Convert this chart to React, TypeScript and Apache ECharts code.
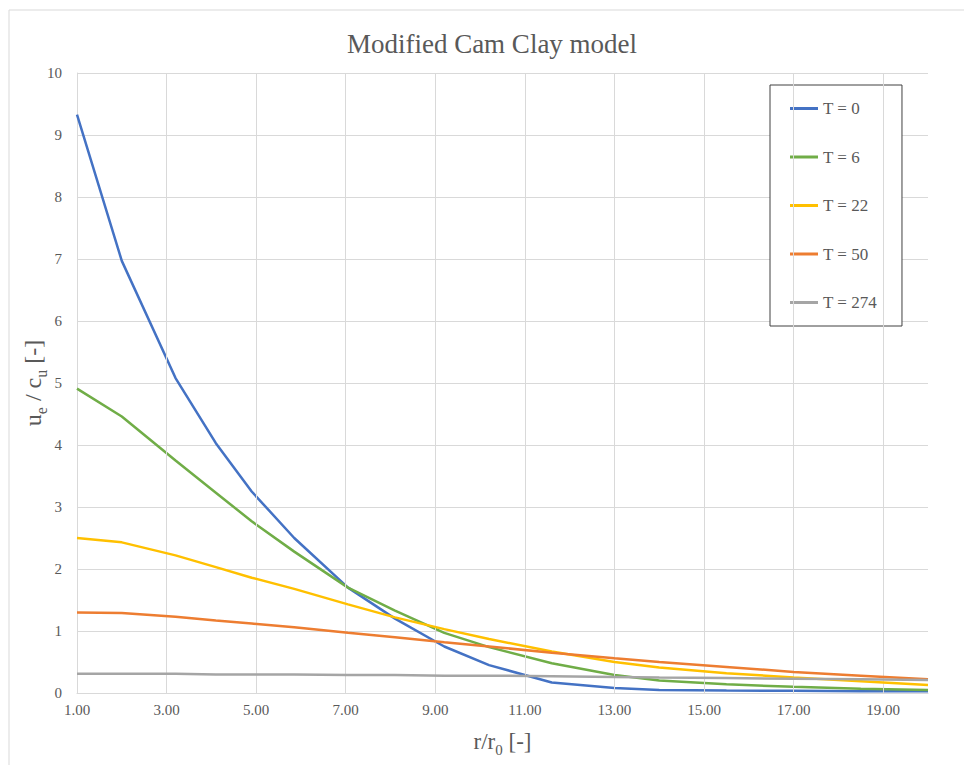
import React, { useEffect, useRef } from "react";
import * as echarts from "echarts";

const xValues = [1, 2, 3.2, 4.1, 4.9, 5.85, 7.05, 8.1, 9.2, 10.2, 11.6, 13, 14, 15.5, 17, 18.5, 20];
const seriesNames = ["T = 0", "T = 6", "T = 22", "T = 50", "T = 274"];
const t0 = [9.33, 6.97, 5.08, 4.03, 3.25, 2.5, 1.7, 1.2, 0.75, 0.45, 0.17, 0.08, 0.05, 0.04, 0.035, 0.03, 0.03];
const t6 = [4.91, 4.46, 3.75, 3.23, 2.77, 2.28, 1.7, 1.33, 0.97, 0.74, 0.48, 0.29, 0.2, 0.14, 0.1, 0.07, 0.05];
const t22 = [2.5, 2.43, 2.22, 2.03, 1.86, 1.68, 1.43, 1.22, 1.03, 0.87, 0.67, 0.5, 0.41, 0.32, 0.25, 0.19, 0.13];
const t50 = [1.3, 1.29, 1.23, 1.17, 1.12, 1.06, 0.97, 0.9, 0.82, 0.75, 0.65, 0.56, 0.5, 0.42, 0.34, 0.28, 0.22];
const t274 = [0.31, 0.31, 0.31, 0.3, 0.3, 0.3, 0.29, 0.29, 0.28, 0.28, 0.27, 0.26, 0.25, 0.24, 0.23, 0.22, 0.21];
const xGridTicks = [3, 5, 7, 9, 11, 13, 15, 17, 19];
const colors = ["#4472C4", "#70AD47", "#FFC000", "#ED7D31", "#A5A5A5"];

const FONT = '"Liberation Serif", "Times New Roman", serif';
const TXT = "#595959";

export default function App() {
  const ref = useRef<HTMLDivElement>(null);
  useEffect(() => {
    if (!ref.current) return;
    const chart = echarts.init(ref.current, undefined, { renderer: "svg" });
    const all = [t0, t6, t22, t50, t274];
    const series: any[] = all.map((vals, i) => ({
      name: seriesNames[i],
      type: "line",
      data: xValues.map((x, j) => [x, vals[j]]),
      symbol: "none",
      showSymbol: false,
      z: 3 + i,
      lineStyle: { color: colors[i], width: 2.5 },
      itemStyle: { color: colors[i] },
      emphasis: { disabled: true },
    }));
    series.push({
      name: "grid",
      type: "line",
      data: [],
      z: 1,
      markLine: {
        silent: true,
        symbol: "none",
        animation: false,
        label: { show: false },
        lineStyle: { color: "#d9d9d9", type: "solid", width: 1 },
        emphasis: { disabled: true },
        data: xGridTicks.map((x) => ({ xAxis: x })),
      },
    });
    const nameRich = (size: number, sub: number, lh: number) => ({
      a: { fontFamily: FONT, fontSize: size, color: TXT, lineHeight: lh, verticalAlign: "middle" },
      s: { fontFamily: FONT, fontSize: sub, color: TXT, lineHeight: lh, verticalAlign: "bottom" },
    });
    chart.setOption({
      animation: false,
      textStyle: { fontFamily: FONT },
      title: {
        text: "Modified Cam Clay model",
        left: 487,
        top: 25,
        textAlign: "center",
        textStyle: { fontFamily: FONT, fontSize: 27, fontWeight: "normal", color: TXT },
      },
      graphic: [
        {
          type: "rect",
          shape: { x: 9, y: 10, width: 1000, height: 800 },
          style: { fill: "none", stroke: "#d9d9d9", lineWidth: 1 },
          z: 0,
          silent: true,
        },
      ],
      legend: {
        data: seriesNames,
        orient: "vertical",
        left: 770,
        top: 85,
        padding: [15, 25, 15, 20],
        itemGap: 31.5,
        itemWidth: 28,
        itemHeight: 3,
        icon: "rect",
        borderColor: "#404040",
        borderWidth: 1,
        backgroundColor: "#fff",
        textStyle: { fontFamily: FONT, fontSize: 17, color: TXT },
        selectedMode: false,
      },
      grid: { left: 77, right: 36, top: 73, bottom: 72, containLabel: false },
      xAxis: {
        type: "value",
        min: 1,
        max: 20,
        interval: 1,
        name: "{a|r/r}{s|0}{a| [-]}",
        nameLocation: "middle",
        nameGap: 32,
        nameMoveOverlap: false,
        nameTextStyle: { rich: nameRich(23, 15, 32) },
        axisLine: { show: true, lineStyle: { color: "#d9d9d9", width: 1 } },
        axisTick: { show: false },
        splitLine: { show: false },
        axisLabel: {
          margin: 9,
          fontFamily: FONT,
          fontSize: 15,
          color: TXT,
          formatter: (v: number) => (Math.round(v) % 2 === 1 && v < 20 ? v.toFixed(2) : ""),
        },
      },
      yAxis: {
        type: "value",
        min: 0,
        max: 10,
        interval: 1,
        name: "{a|u}{s|e}{a| / c}{s|u}{a| [-]}",
        nameLocation: "middle",
        nameGap: 28,
        nameRotate: 90,
        nameMoveOverlap: false,
        nameTextStyle: { rich: nameRich(24, 16, 32) },
        axisLine: { show: true, lineStyle: { color: "#d9d9d9", width: 1 } },
        axisTick: { show: false },
        splitLine: { show: true, lineStyle: { color: "#d9d9d9", width: 1 } },
        axisLabel: { margin: 15, fontFamily: FONT, fontSize: 15, color: TXT },
      },
      series,
    });
    return () => chart.dispose();
  }, []);
  return (
    <div
      ref={ref}
      style={{ position: "fixed", left: 0, top: 0, width: 964, height: 765, background: "#fff" }}
    />
  );
}
